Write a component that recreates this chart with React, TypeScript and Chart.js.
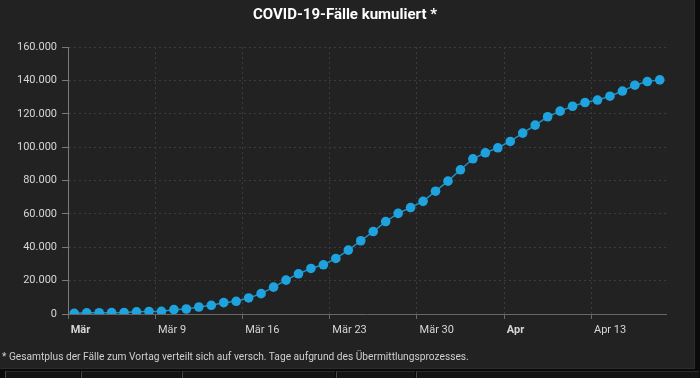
import React, { useEffect, useRef } from "react";
import { Chart, registerables } from "chart.js";

Chart.register(...registerables);

const dates = [
  "2020-03-01", "2020-03-02", "2020-03-03", "2020-03-04", "2020-03-05", "2020-03-06", "2020-03-07", "2020-03-08",
  "2020-03-09", "2020-03-10", "2020-03-11", "2020-03-12", "2020-03-13", "2020-03-14", "2020-03-15", "2020-03-16",
  "2020-03-17", "2020-03-18", "2020-03-19", "2020-03-20", "2020-03-21", "2020-03-22", "2020-03-23", "2020-03-24",
  "2020-03-25", "2020-03-26", "2020-03-27", "2020-03-28", "2020-03-29", "2020-03-30", "2020-03-31", "2020-04-01",
  "2020-04-02", "2020-04-03", "2020-04-04", "2020-04-05", "2020-04-06", "2020-04-07", "2020-04-08", "2020-04-09",
  "2020-04-10", "2020-04-11", "2020-04-12", "2020-04-13", "2020-04-14", "2020-04-15", "2020-04-16", "2020-04-17",
];

const cases = [
  400, 700, 750, 800, 850, 1300, 1500, 1600, 2600, 3000, 4200, 5200, 6800, 7600, 9600, 12200,
  16100, 20300, 24100, 27300, 29500, 33300, 38300, 43900, 49400, 55400, 60300, 63800, 67500, 73600, 79600, 86400,
  93000, 96600, 99600, 103400, 108400, 113200, 118200, 121600, 124500, 126700, 128200, 130500, 133600, 137100, 139300, 140300,
];

const xTickPositions = [-0.5, 6.5, 13.5, 20.5, 27.5, 34.5, 41.5];
const xTickLabels = ["Mär", "Mär 9", "Mär 16", "Mär 23", "Mär 30", "Apr", "Apr 13"];
const boldTickLabels = ["Mär", "Apr"];
const yTickValues = [0, 20000, 40000, 60000, 80000, 100000, 120000, 140000, 160000];

const title = "COVID-19-Fälle kumuliert *";
const footnote = "* Gesamtplus der Fälle zum Vortag verteilt sich auf versch. Tage aufgrund des Übermittlungsprozesses.";

const fmt = (v: number) => String(v).replace(/\B(?=(\d{3})+(?!\d))/g, ".");

export default function App() {
  const ref = useRef<HTMLCanvasElement>(null);

  useEffect(() => {
    const points = dates.map((_, i) => ({ x: i, y: cases[i] }));
    const chart = new Chart(ref.current as HTMLCanvasElement, {
      type: "line",
      data: {
        datasets: [
          {
            data: points,
            borderColor: "#1f8fc4",
            borderWidth: 1.5,
            pointRadius: 4.8,
            pointBackgroundColor: "#1ea3de",
            pointBorderWidth: 0,
            pointHoverRadius: 4.8,
            tension: 0,
            fill: false,
          },
        ],
      },
      options: {
        animation: false,
        responsive: false,
        maintainAspectRatio: false,
        layout: { padding: { left: 0, right: 34, top: 47, bottom: 0 } },
        plugins: {
          legend: { display: false },
          title: { display: false },
          tooltip: { enabled: false },
        },
        scales: {
          x: {
            type: "linear",
            min: -0.5,
            max: 47.5,
            afterBuildTicks: (s: any) => {
              s.ticks = xTickPositions.map((v) => ({ value: v }));
            },
            afterFit: (s: any) => {
              s.height = 64;
            },
            ticks: {
              autoSkip: false,
              maxRotation: 0,
              minRotation: 0,
              align: "start",
              padding: 5,
              color: "#d6d6d6",
              font: (c: any) => ({
                family: "Roboto",
                size: 11,
                weight: boldTickLabels.includes(xTickLabels[c.index]) ? "bold" : "normal",
              }),
              callback: (_v: any, i: number) => " " + xTickLabels[i],
            },
            grid: {
              color: (c: any) => (c.index === 0 ? "rgba(0,0,0,0)" : "#3c3c3c"),
              lineWidth: 1,
              tickLength: 5,
              tickColor: "#6a6a6a",
            },
            border: { display: true, color: "#666666", width: 1, dash: [2, 3] },
          },
          y: {
            min: 0,
            max: 160000,
            afterBuildTicks: (s: any) => {
              s.ticks = yTickValues.map((v) => ({ value: v }));
            },
            afterFit: (s: any) => {
              s.width = 68;
            },
            ticks: {
              padding: 5,
              color: "#d6d6d6",
              font: { family: "Roboto", size: 11 },
              callback: (v: any) => fmt(Number(v)),
            },
            grid: {
              color: (c: any) => (c.index === 0 ? "rgba(0,0,0,0)" : "#3c3c3c"),
              lineWidth: 1,
              tickLength: 6,
              tickColor: "#7a7a7a",
            },
            border: { display: true, color: "#7c7c7c", width: 1, dash: [2, 3] },
          },
        },
      },
    });
    return () => chart.destroy();
  }, []);

  const strip = [5, 81, 182, 336, 416];

  return (
    <div
      style={{
        position: "fixed",
        top: 0,
        left: 0,
        width: 700,
        height: 378,
        background: "#0a0a0a",
        overflow: "hidden",
        fontFamily: "Roboto, sans-serif",
      }}
    >
      <div
        style={{
          position: "absolute",
          left: 0,
          top: 0,
          width: 694,
          height: 368,
          background: "#222222",
          borderRight: "1px solid #2c2c2c",
          borderBottom: "1px solid #2c2c2c",
        }}
      />
      {strip.map((x, i) => (
        <div
          key={i}
          style={{
            position: "absolute",
            left: x,
            top: 371,
            width: (strip[i + 1] ?? 700) - x - 2,
            height: 10,
            background: "#141414",
            borderLeft: "1px solid #4a4a4a",
            borderTop: "1px solid #2a2a2a",
          }}
        />
      ))}
      <canvas
        ref={ref}
        width={700}
        height={378}
        style={{ position: "absolute", left: 0, top: 0, width: 700, height: 378 }}
      />
      <div
        style={{
          position: "absolute",
          left: 0,
          top: 5,
          width: 690,
          textAlign: "center",
          color: "#ffffff",
          fontWeight: "bold",
          fontSize: 15,
          lineHeight: "18px",
        }}
      >
        {title}
      </div>
      <div
        style={{
          position: "absolute",
          left: 2,
          top: 350,
          color: "#cfcfcf",
          fontSize: 10.2,
          lineHeight: "13px",
          whiteSpace: "nowrap",
        }}
      >
        {footnote}
      </div>
    </div>
  );
}
